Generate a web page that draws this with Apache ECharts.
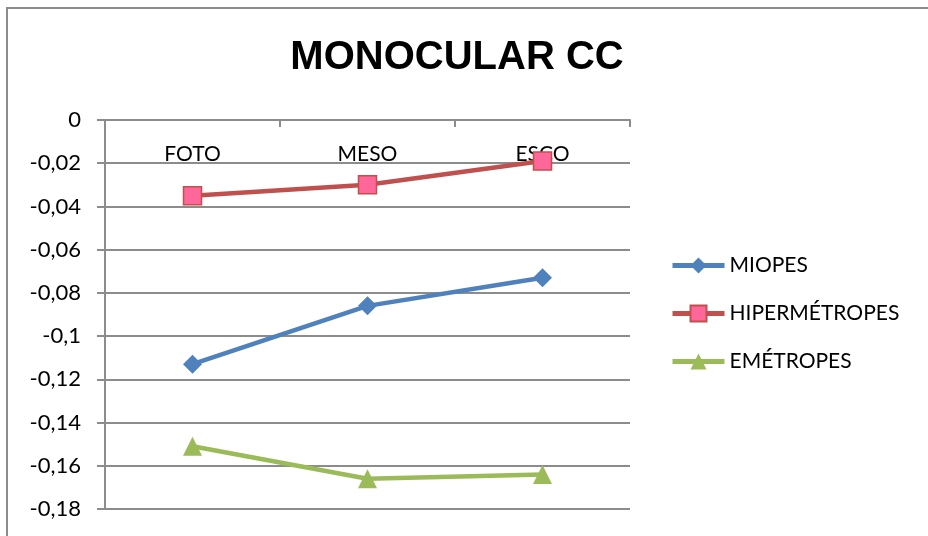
<!DOCTYPE html>
<html><head><meta charset="utf-8">
<script src="https://cdn.jsdelivr.net/npm/echarts@6/dist/echarts.min.js"></script>
<style>html,body{margin:0;padding:0;background:#fff}#c{width:928px;height:536px}</style>
</head><body><div id="c"></div>
<script>
const categories = ['FOTO', 'MESO', 'ESCO'];
const miopes = [-0.113, -0.086, -0.073];
const hipermetropes = [-0.035, -0.030, -0.019];
const emetropes = [-0.151, -0.166, -0.164];
const seriesNames = ['MIOPES', 'HIPERMÉTROPES', 'EMÉTROPES'];

const chart = echarts.init(document.getElementById('c'), null, {renderer: 'canvas'});
const font = 'Lato, "Open Sans", sans-serif';
const grey = '#8c8c8c';
chart.setOption({
  animation: false,
  title: {
    text: 'MONOCULAR CC', left: 452, top: 33, textAlign: 'center',
    textStyle: {fontFamily: '"Liberation Sans", Arial, sans-serif', fontWeight: 'bold', fontSize: 40, color: '#000'}
  },
  graphic: [{type: 'rect', shape: {x: 7, y: 8, width: 960, height: 560}, style: {fill: 'none', stroke: grey, lineWidth: 2}, silent: true}],
  grid: {left: 105, right: 298, top: 120, bottom: 27},
  legend: {
    orient: 'vertical', left: 670, top: 255, padding: 0, itemWidth: 52, itemHeight: 20, itemGap: 27,
    textStyle: {fontFamily: font, fontSize: 21, color: '#000'},
    lineStyle: {width: 5},
    data: seriesNames
  },
  xAxis: {
    type: 'category', data: categories, boundaryGap: true, position: 'top',
    axisLine: {lineStyle: {color: grey, width: 2}},
    axisTick: {show: true, inside: true, length: 7, lineStyle: {color: grey, width: 2}},
    axisLabel: {inside: true, margin: 24, fontFamily: font, fontSize: 21, color: '#000'},
    splitLine: {show: false}
  },
  yAxis: {
    type: 'value', min: -0.18, max: 0, interval: 0.02,
    axisLine: {show: true, lineStyle: {color: grey, width: 2}},
    axisTick: {show: true, length: 8, lineStyle: {color: grey, width: 2}},
    axisLabel: {margin: 24, fontFamily: font, fontSize: 22, color: '#000',
      formatter: v => String(parseFloat(v.toFixed(2))).replace('.', ',')},
    splitLine: {show: true, lineStyle: {color: grey, width: 2}}
  },
  series: [
    {name: seriesNames[0], type: 'line', data: miopes, symbol: 'diamond', symbolSize: 19,
      lineStyle: {color: '#4F81BD', width: 4.5}, itemStyle: {color: '#4F81BD'}},
    {name: seriesNames[1], type: 'line', data: hipermetropes, symbol: 'rect', symbolSize: 18,
      lineStyle: {color: '#C0504D', width: 4.5}, itemStyle: {color: '#FF6699', borderColor: '#C0504D', borderWidth: 1.5}},
    {name: seriesNames[2], type: 'line', data: emetropes, symbol: 'triangle', symbolSize: 19,
      lineStyle: {color: '#9BBB59', width: 4.5}, itemStyle: {color: '#9BBB59'}}
  ]
});
</script></body></html>
